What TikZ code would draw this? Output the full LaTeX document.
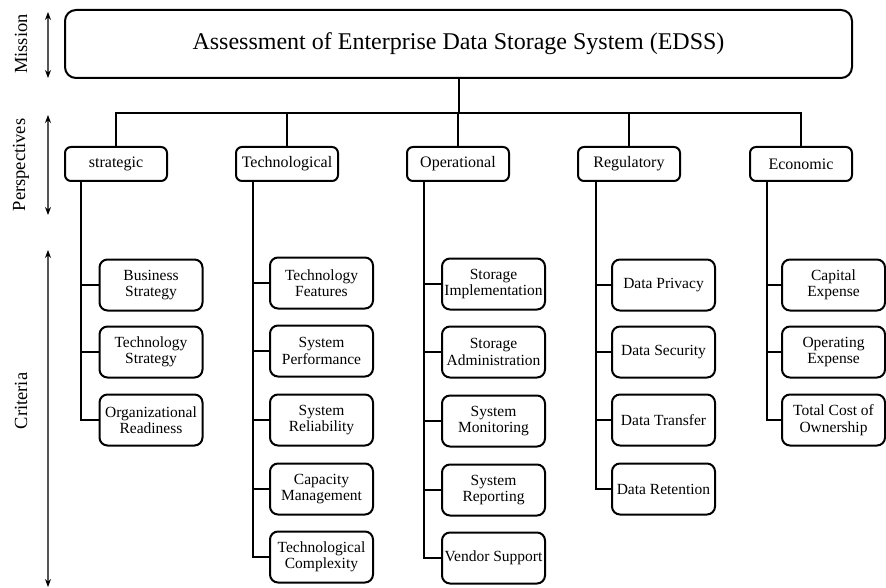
\documentclass[tikz,border=0pt]{standalone}
\usepackage{fontspec}
\setmainfont{Liberation Serif}
\usetikzlibrary{arrows.meta}
\definecolor{arrowgray}{HTML}{555555}
\begin{document}
\begin{tikzpicture}[x=1pt,y=-1pt,line width=2pt,
  titlebox/.style={draw,line width=2pt,rounded corners=11pt,minimum width=787pt,minimum height=68pt,inner sep=0pt,font=\fontsize{24}{26}\selectfont},
  persp/.style={draw,line width=2pt,rounded corners=6pt,minimum width=102pt,minimum height=34pt,inner sep=0pt,font=\fontsize{16}{17}\selectfont},
  crit/.style={draw,line width=2pt,rounded corners=8pt,minimum width=103pt,minimum height=51pt,inner sep=0pt,align=center,font=\fontsize{15.5}{16.5}\selectfont},
  link/.style={draw,line width=2pt},
  side/.style={rotate=90,font=\fontsize{18.5}{20}\selectfont},
  dbl/.style={{Stealth[length=8pt,width=6pt,color=black]}-{Stealth[length=8pt,width=6pt,color=black]},draw=arrowgray,line width=1.2pt}
]
\useasboundingbox (0,0) rectangle (886,588);
% side labels and arrows
\node[side] (lm) at (21,44) {Mission};
\node[side] (lp) at (21,165) {Perspectives};
\node[side] (lc) at (21,401) {Criteria};
\coordinate (m1) at (48,12); \coordinate (m2) at (48,78);
\coordinate (pa1) at (48,115); \coordinate (pa2) at (48,215);
\coordinate (c1) at (48,250); \coordinate (c2) at (48,587);
\draw[dbl] (m1) -- (m2);
\draw[dbl] (pa1) -- (pa2);
\draw[dbl] (c1) -- (c2);
% mission
\node[titlebox] (title) at (458.5,44) {Assessment of Enterprise Data Storage System (EDSS)};
% perspectives
\node[persp] (p1) at (116,164) {strategic};
\node[persp] (p2) at (287,164) {Technological};
\node[persp] (p3) at (458,164) {Operational};
\node[persp] (p4) at (629,164) {Regulatory};
\node[persp] (p5) at (801,164) {Economic};
\coordinate (bus) at (458,113);
\draw[link] (title.south) -- (title.south |- bus);
\draw[link] (p1.north) -- (p1.north |- bus) -- (p5.north |- bus) -- (p5.north);
\foreach \p in {p2,p3,p4} \draw[link] (\p.north) -- (\p.north |- bus);
% criteria: strategic
\node[crit] (s1) at (151,285) {Business\\Strategy};
\node[crit] (s2) at (151,352) {Technology\\Strategy};
\node[crit] (s3) at (151,420) {Organizational\\Readiness};
% technological
\node[crit] (t1) at (321.5,283) {Technology\\Features};
\node[crit] (t2) at (321.5,351) {System\\Performance};
\node[crit] (t3) at (321.5,420) {System\\Reliability};
\node[crit] (t4) at (321.5,489) {Capacity\\Management};
\node[crit] (t5) at (321.5,557) {Technological\\Complexity};
% operational
\node[crit] (o1) at (493.5,284) {Storage\\Implementation};
\node[crit] (o2) at (493.5,352) {Storage\\Administration};
\node[crit] (o3) at (493.5,421) {System\\Monitoring};
\node[crit] (o4) at (493.5,490) {System\\Reporting};
\node[crit] (o5) at (493.5,558) {Vendor Support};
% regulatory
\node[crit] (r1) at (663.5,285) {Data Privacy};
\node[crit] (r2) at (663.5,352) {Data Security};
\node[crit] (r3) at (663.5,420) {Data Transfer};
\node[crit] (r4) at (663.5,489) {Data Retention};
% economic
\node[crit] (e1) at (833.5,285) {Capital\\Expense};
\node[crit] (e2) at (833.5,352) {Operating\\Expense};
\node[crit] (e3) at (833.5,420) {Total Cost of\\Ownership};
% trunk lines
\coordinate (sl) at (81,181);
\coordinate (tl) at (253,181);
\coordinate (ol) at (424,181);
\coordinate (rl) at (596,181);
\coordinate (el) at (767,181);
\draw[link] (sl) |- (s3.west);
\foreach \b in {s1,s2} \draw[link] (\b.west) -- (\b.west -| sl);
\draw[link] (tl) |- (t5.west);
\foreach \b in {t1,t2,t3,t4} \draw[link] (\b.west) -- (\b.west -| tl);
\draw[link] (ol) |- (o5.west);
\foreach \b in {o1,o2,o3,o4} \draw[link] (\b.west) -- (\b.west -| ol);
\draw[link] (rl) |- (r4.west);
\foreach \b in {r1,r2,r3} \draw[link] (\b.west) -- (\b.west -| rl);
\draw[link] (el) |- (e3.west);
\foreach \b in {e1,e2} \draw[link] (\b.west) -- (\b.west -| el);
\end{tikzpicture}
\end{document}
